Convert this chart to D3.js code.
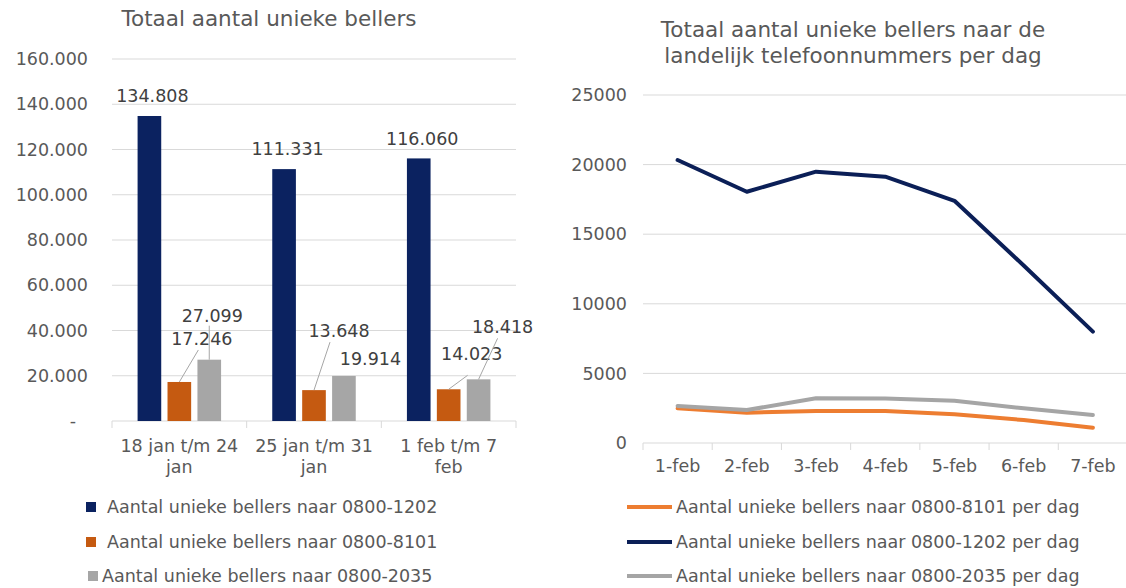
<!DOCTYPE html>
<html lang="nl">
<head>
<meta charset="UTF-8">
<title>Totaal aantal unieke bellers</title>
<script src="https://cdn.jsdelivr.net/npm/d3@7"></script>
<style>
body { margin: 0; background: #fff; }
svg text {
  font-family: "DejaVu Sans", Verdana, sans-serif;
  font-size: 17.5px;
  fill: #595959;
}
.title text { font-size: 21.5px; }
.grid line { stroke: #d9d9d9; stroke-width: 1; }
.axis .domain { display: none; }
.axis line { stroke: #d9d9d9; }
.datalabel { fill: #404040; }
.leader { stroke: #a6a6a6; stroke-width: 1; }
</style>
</head>
<body>
<svg width="1126" height="588"></svg>
<script>
// left chart: weekly totals
var weeks = [["18 jan t/m 24", "jan"], ["25 jan t/m 31", "jan"], ["1 feb t/m 7", "feb"]];
var weekly1202 = [134808, 111331, 116060];
var weekly8101 = [17246, 13648, 14023];
var weekly2035 = [27099, 19914, 18418];
var barNames = ["Aantal unieke bellers naar 0800-1202",
                "Aantal unieke bellers naar 0800-8101",
                "Aantal unieke bellers naar 0800-2035"];
var leftTicks = [0, 20000, 40000, 60000, 80000, 100000, 120000, 140000, 160000];

// right chart: per day
var days = ["1-feb", "2-feb", "3-feb", "4-feb", "5-feb", "6-feb", "7-feb"];
var daily8101 = [2490, 2180, 2300, 2300, 2060, 1650, 1100];
var daily1202 = [20330, 18050, 19490, 19130, 17400, 12750, 8000];
var daily2035 = [2660, 2370, 3210, 3200, 3040, 2490, 2010];
var lineNames = ["Aantal unieke bellers naar 0800-8101 per dag",
                 "Aantal unieke bellers naar 0800-1202 per dag",
                 "Aantal unieke bellers naar 0800-2035 per dag"];
var rightTicks = [0, 5000, 10000, 15000, 20000, 25000];

var barColors = ["#0b2260", "#c55a11", "#a6a6a6"];
var lineColors = ["#ed7d31", "#0b1f57", "#a5a5a5"];

// where the data labels sit, relative to the top centre of each bar
// [dx, dy(baseline), leaderX, leaderY]
var labelPos = [
  [[3, -13.5], [3.5, -14], [3.5, -13.5]],
  [[22.5, -37, 19, -32], [25, -53, 16, -48], [23, -29, 19, -14]],
  [[3, -38, 0, -34], [26.5, -11], [24, -46, 19, -41]]
];

var nl = d3.formatLocale({decimal: ",", thousands: ".", grouping: [3], currency: ["€", ""]});
var fmt = nl.format(",");

var svg = d3.select("svg");

// ---------- left: bar chart ----------
var barData = [weekly1202, weekly8101, weekly2035];

var x0 = d3.scaleBand().domain(d3.range(weeks.length)).range([112, 516]);
var x1 = d3.scaleBand().domain(d3.range(barData.length))
    .range([x0.bandwidth() * 0.19, x0.bandwidth() * 0.81])
    .paddingInner(0.21);
var yL = d3.scaleLinear().domain([0, 160000]).range([421, 59]);

svg.append("g").attr("class", "grid")
  .selectAll("line")
  .data(leftTicks.filter(function(d) { return d > 0; }))
  .enter().append("line")
    .attr("x1", 112).attr("x2", 516)
    .attr("y1", function(d) { return yL(d); })
    .attr("y2", function(d) { return yL(d); });

var yAxisL = svg.append("g")
    .attr("class", "axis")
    .attr("transform", "translate(112,0)")
    .call(d3.axisLeft(yL).tickValues(leftTicks).tickSize(0).tickPadding(24)
      .tickFormat(function(d) { return d === 0 ? "-" : fmt(d); }));
yAxisL.selectAll(".tick text")
    .filter(function(d) { return d === 0; })
    .attr("x", -36);

// x axis line + ticks between categories
svg.append("line")
    .attr("x1", 112).attr("x2", 516)
    .attr("y1", yL(0)).attr("y2", yL(0))
    .attr("stroke", "#d9d9d9");
svg.append("g")
  .selectAll("line")
  .data(d3.range(weeks.length + 1))
  .enter().append("line")
    .attr("x1", function(i) { return 112 + i * x0.bandwidth(); })
    .attr("x2", function(i) { return 112 + i * x0.bandwidth(); })
    .attr("y1", yL(0)).attr("y2", yL(0) + 7)
    .attr("stroke", "#d9d9d9");

var catLabels = svg.append("g")
  .selectAll("text")
  .data(weeks)
  .enter().append("text")
    .attr("text-anchor", "middle");
catLabels.append("tspan")
    .attr("x", function(d, i) { return x0(i) + x0.bandwidth() / 2; })
    .attr("y", 452)
    .text(function(d) { return d[0]; });
catLabels.append("tspan")
    .attr("x", function(d, i) { return x0(i) + x0.bandwidth() / 2; })
    .attr("y", 473)
    .text(function(d) { return d[1]; });

barData.forEach(function(values, s) {
  var g = svg.append("g");
  g.selectAll("rect")
    .data(values)
    .enter().append("rect")
      .attr("x", function(d, i) { return x0(i) + x1(s); })
      .attr("y", function(d) { return yL(d); })
      .attr("width", x1.bandwidth())
      .attr("height", function(d) { return yL(0) - yL(d); })
      .attr("fill", barColors[s]);

  values.forEach(function(v, i) {
    var cx = x0(i) + x1(s) + x1.bandwidth() / 2;
    var top = yL(v);
    var p = labelPos[s][i];
    if (p.length > 2) {
      g.append("line").attr("class", "leader")
        .attr("x1", cx + p[2]).attr("y1", top + p[3])
        .attr("x2", cx).attr("y2", top);
    }
    g.append("text").attr("class", "datalabel")
      .attr("text-anchor", "middle")
      .attr("x", cx + p[0])
      .attr("y", top + p[1])
      .text(fmt(v));
  });
});

svg.append("g").attr("class", "title")
  .append("text")
    .attr("x", 269).attr("y", 26)
    .attr("text-anchor", "middle")
    .text("Totaal aantal unieke bellers");

// left legend
var legL = svg.append("g")
  .selectAll("g")
  .data(barNames)
  .enter().append("g")
    .attr("transform", function(d, i) { return "translate(0," + [507, 542, 576][i] + ")"; });
legL.append("rect")
    .attr("x", function(d, i) { return i == 2 ? 88 : 86; })
    .attr("y", -5).attr("width", 10).attr("height", 10)
    .attr("fill", function(d, i) { return barColors[i]; });
legL.append("text")
    .attr("x", function(d, i) { return i == 2 ? 102 : 107; })
    .attr("dy", "0.35em")
    .text(function(d) { return d; });

// ---------- right: line chart ----------
var xR = d3.scaleBand().domain(days).range([643, 1127.5]);
var yR = d3.scaleLinear().domain([0, 25000]).range([443, 95]);

svg.append("g").attr("class", "grid")
  .selectAll("line")
  .data(rightTicks.filter(function(d) { return d > 0; }))
  .enter().append("line")
    .attr("x1", 643).attr("x2", 1127.5)
    .attr("y1", function(d) { return yR(d); })
    .attr("y2", function(d) { return yR(d); });

svg.append("g")
    .attr("class", "axis")
    .attr("transform", "translate(643,0)")
    .call(d3.axisLeft(yR).tickValues(rightTicks).tickSize(0).tickPadding(16)
      .tickFormat(d3.format("d")));

svg.append("line")
    .attr("x1", 643).attr("x2", 1127.5)
    .attr("y1", yR(0)).attr("y2", yR(0))
    .attr("stroke", "#d9d9d9");
svg.append("g")
  .selectAll("line")
  .data(days)
  .enter().append("line")
    .attr("x1", function(d) { return xR(d); })
    .attr("x2", function(d) { return xR(d); })
    .attr("y1", yR(0)).attr("y2", yR(0) + 7)
    .attr("stroke", "#d9d9d9");

svg.append("g")
  .selectAll("text")
  .data(days)
  .enter().append("text")
    .attr("text-anchor", "middle")
    .attr("x", function(d) { return xR(d) + xR.bandwidth() / 2; })
    .attr("y", 472)
    .text(function(d) { return d; });

var line = d3.line()
    .x(function(d, i) { return xR(days[i]) + xR.bandwidth() / 2; })
    .y(function(d) { return yR(d); });

[daily8101, daily1202, daily2035].forEach(function(values, s) {
  svg.append("path")
      .datum(values)
      .attr("d", line)
      .attr("fill", "none")
      .attr("stroke", lineColors[s])
      .attr("stroke-width", 4)
      .attr("stroke-linejoin", "round")
      .attr("stroke-linecap", "round");
});

var titleR = svg.append("g").attr("class", "title")
  .append("text")
    .attr("text-anchor", "middle");
titleR.append("tspan").attr("x", 853).attr("y", 37)
    .text("Totaal aantal unieke bellers naar de");
titleR.append("tspan").attr("x", 853).attr("y", 63)
    .text("landelijk telefoonnummers per dag");

// right legend
var legR = svg.append("g")
  .selectAll("g")
  .data(lineNames)
  .enter().append("g")
    .attr("transform", function(d, i) { return "translate(0," + [507, 542, 576][i] + ")"; });
legR.append("line")
    .attr("x1", 627).attr("x2", 672)
    .attr("stroke", function(d, i) { return lineColors[i]; })
    .attr("stroke-width", 4);
legR.append("text")
    .attr("x", 676)
    .attr("dy", "0.35em")
    .text(function(d) { return d; });
</script>
</body>
</html>
